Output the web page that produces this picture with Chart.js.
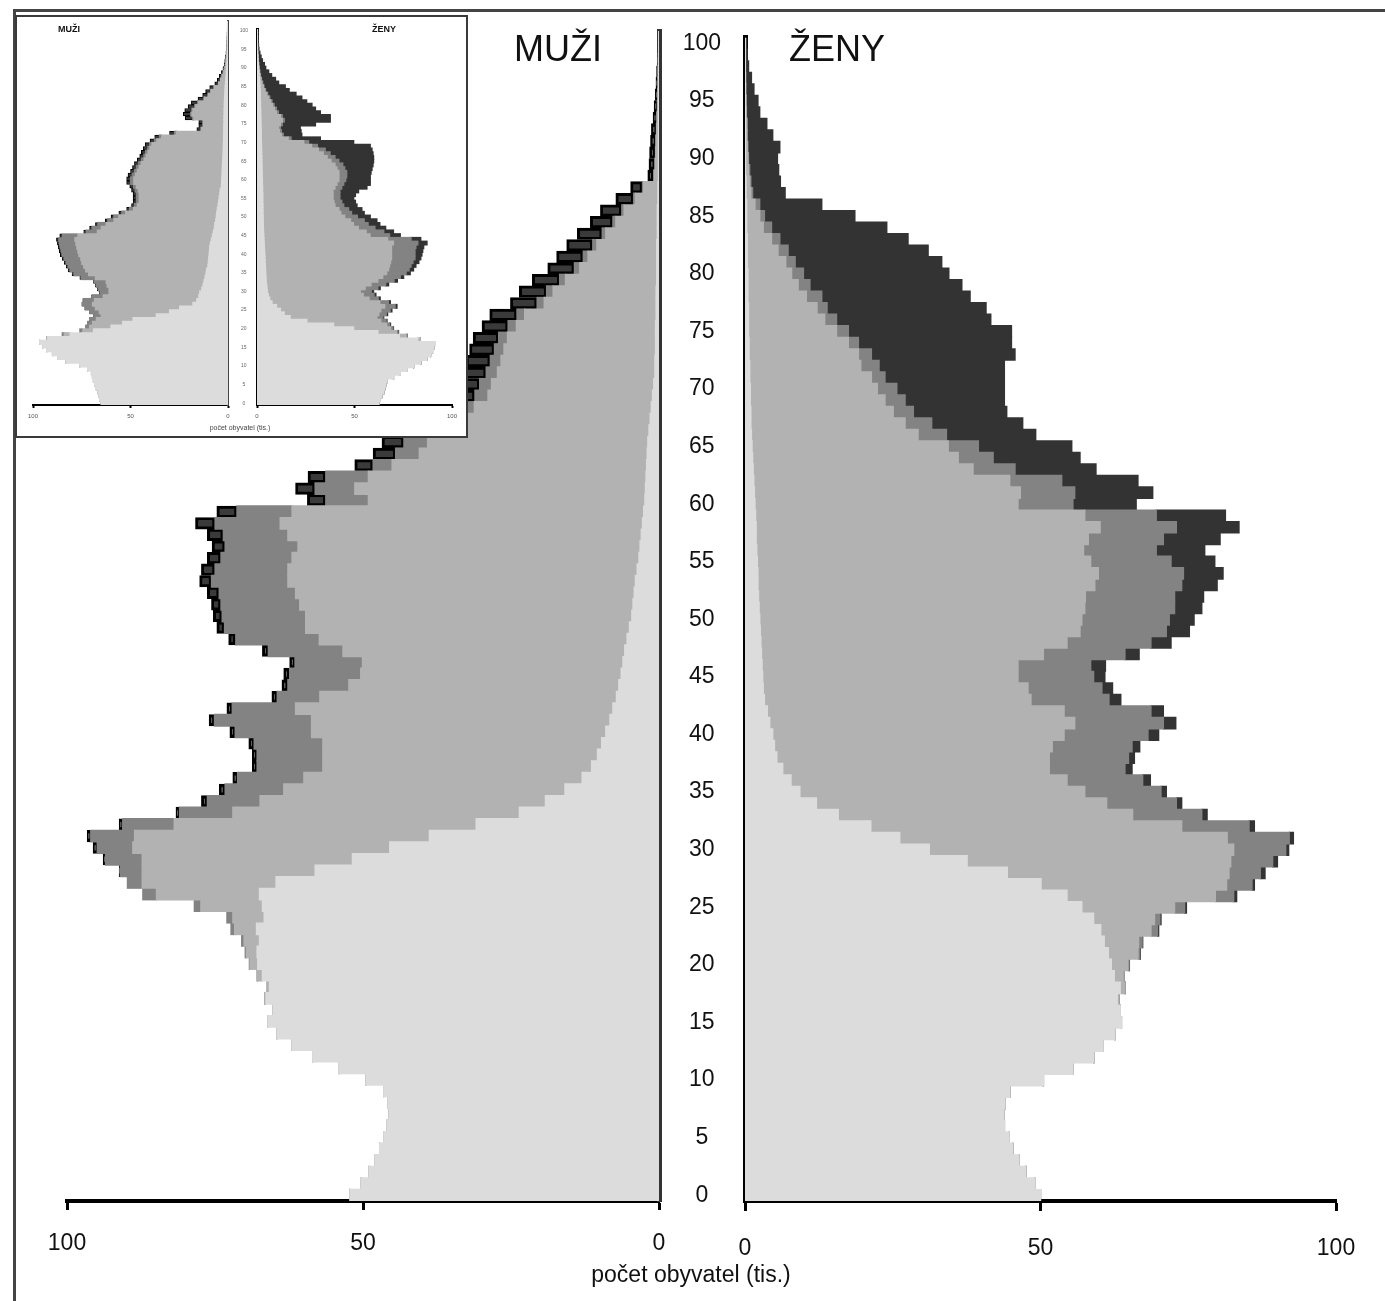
<!DOCTYPE html>
<html>
<head>
<meta charset="utf-8">
<script src="https://cdn.jsdelivr.net/npm/chart.js@4.4.1/dist/chart.umd.min.js"></script>
<style>
  html, body { margin: 0; padding: 0; background: #fff; }
  #wrap { position: relative; width: 1385px; height: 1301px; overflow: hidden; background: #fff;
          font-family: "Liberation Sans", Arial, Helvetica, sans-serif; color: #111; }
  canvas { position: absolute; }
  .line { position: absolute; background: #444; }
  #inset { position: absolute; left: 15px; top: 15px; width: 449px; height: 419px;
           border: 2px solid #3a3a3a; background: #fff; z-index: 5; }
  .txt { position: absolute; white-space: nowrap; line-height: 1; }
</style>
</head>
<body>
<div id="wrap">
  <div class="line" style="left:13px;top:9px;width:1372px;height:3px;"></div>
  <div class="line" style="left:13px;top:9px;width:3px;height:1292px;"></div>

  <canvas id="men" width="680" height="1301" style="left:0;top:0;"></canvas>
  <canvas id="women" width="705" height="1301" style="left:680px;top:0;"></canvas>

  <div class="txt" style="left:514px;top:31px;font-size:36px;">MUŽI</div>
  <div class="txt" style="left:789px;top:31px;font-size:36px;">ŽENY</div>
  <div class="txt" style="left:541px;top:1263px;width:300px;text-align:center;font-size:23px;">počet obyvatel (tis.)</div>

  <div id="inset">
    <canvas id="insetMen" width="220" height="419" style="left:0;top:0;"></canvas>
    <canvas id="insetWomen" width="229" height="419" style="left:220px;top:0;"></canvas>
    <div class="txt" style="left:41px;top:8px;font-size:9px;font-weight:bold;">MUŽI</div>
    <div class="txt" style="left:355px;top:8px;font-size:9px;font-weight:bold;">ŽENY</div>
    <div class="txt" style="left:173px;top:407px;width:100px;text-align:center;font-size:7px;color:#444;">počet obyvatel (tis.)</div>
  </div>
</div>

<script>
// ---------- categories and tick labels ----------
const ages = [0,1,2,3,4,5,6,7,8,9,10,11,12,13,14,15,16,17,18,19,20,21,22,23,24,25,26,27,28,29,
  30,31,32,33,34,35,36,37,38,39,40,41,42,43,44,45,46,47,48,49,50,51,52,53,54,55,56,57,58,59,
  60,61,62,63,64,65,66,67,68,69,70,71,72,73,74,75,76,77,78,79,80,81,82,83,84,85,86,87,88,89,
  90,91,92,93,94,95,96,97,98,99,100];
const ageTickLabels = [0,5,10,15,20,25,30,35,40,45,50,55,60,65,70,75,80,85,90,95,100];
const xTickValues = [0, 50, 100];

// ---------- main pyramid: men (thousands) ----------
const menSingle = [52.2,50.3,49.0,48.0,47.2,46.4,45.9,45.6,45.8,46.5,
  49.5,54.0,58.5,62.0,64.5,66.0,65.2,66.4,65.8,67.0,
  67.8,67.9,67.5,68.0,66.7,67.0,67.5,64.7,58.1,51.8,
  45.5,38.8,30.9,23.6,19.2,15.9,13.0,11.4,10.4,9.7,
  9.0,8.3,7.8,7.2,6.8,6.4,6.1,5.8,5.4,5.0,
  4.6,4.4,4.2,4.0,3.7,3.4,3.2,3.0,2.8,2.6,
  2.4,2.3,2.2,2.1,2.0,1.9,1.7,1.5,1.3,1.1,
  0.9,0.7,0.7,0.6,0.6,0.6,0.5,0.5,0.5,0.4,
  0.4,0.4,0.4,0.3,0.3,0.3,0.2,0.2,0.1,0.1,
  0.1,0.1,0.05,0.05,0.05,0.05,0.03,0.03,0.02,0.02,
  0.01];
const menMarried = [0,0,0,0,0,0,0,0,0,0,
  0,0,0,0,0,0,0,0.2,0.4,0.8,
  1.3,1.8,2.6,3.7,5.3,10.4,17.4,22.6,29.2,35.5,
  43.4,49.8,51.0,48.4,48.2,47.5,47.0,45.4,46.4,47.1,
  49.7,50.4,53.6,50.1,45.6,44.0,44.0,47.6,52.0,54.7,
  55.1,56.3,57.2,58.7,59.0,58.6,57.8,59.7,61.2,59.4,
  46.7,49.1,46.9,43.0,38.5,37.2,34.7,32.3,29.9,27.8,
  27.4,26.6,26.0,25.6,25.0,23.5,22.2,18.9,17.4,15.4,
  13.0,11.6,10.1,8.7,7.0,5.6,3.8,2.4,0.7,0.55,
  0.45,0.4,0.35,0.28,0.2,0.15,0.12,0.1,0.08,0.05,
  0.04];
const menDivorced = [0,0,0,0,0,0,0,0,0,0,
  0,0,0,0,0,0,0,0,0,0.1,
  0.1,0.2,0.4,0.6,1.0,1.1,2.3,2.5,3.7,6.2,
  6.0,7.4,8.7,9.0,8.9,9.9,11.2,11.1,11.1,11.6,
  12.9,16.4,10.7,7.2,10.3,12.0,11.4,12.6,14.1,13.7,
  14.1,13.3,12.9,12.9,12.3,12.0,12.3,10.9,11.0,9.3,
  7.2,6.7,7.2,3.2,4.0,4.0,3.4,2.9,2.5,2.2,
  2.0,1.9,1.8,1.6,1.5,1.4,1.3,1.2,1.1,1.0,
  0.9,0.8,0.7,0.6,0.5,0.4,0.3,0.2,0.1,0.05,
  0.05,0.04,0.04,0.03,0.03,0.02,0.02,0.01,0.01,0.01,
  0.01];
const menWidowed = [0,0,0,0,0,0,0,0,0,0,
  0,0,0,0,0,0,0,0,0,0,
  0,0,0,0,0,0,0,0,0.2,0.4,
  0.7,0.6,0.6,0.6,1.0,1.0,0.8,0.8,0.8,0.9,
  0.9,0.9,0.9,0.9,1.0,1.0,0.9,1.0,1.2,1.3,
  1.5,1.6,2.0,2.0,2.3,2.3,2.2,2.7,3.3,3.4,
  3.1,3.3,3.0,3.1,3.8,3.7,3.7,3.8,3.8,3.9,
  4.0,4.0,4.1,4.2,4.3,4.4,4.6,4.5,4.6,4.6,
  4.5,4.5,4.4,4.2,3.8,3.6,3.0,2.0,1.0,1.0,
  1.0,0.9,0.85,0.65,0.55,0.4,0.35,0.28,0.2,0.15,
  0.15];

// ---------- main pyramid: women (thousands) ----------
const womenSingle = [50.0,49.0,47.5,46.3,45.3,44.7,43.9,43.8,44.0,44.8,
  50.5,55.5,59.0,60.5,62.6,63.7,63.5,63.0,63.5,62.5,
  62.0,61.5,60.8,60.2,59.0,57.0,54.5,50.1,44.4,37.6,
  31.2,26.2,21.3,15.8,12.1,9.3,7.8,6.4,5.4,5.0,
  4.7,4.2,3.8,3.3,3.1,3.0,2.9,2.8,2.7,2.6,
  2.5,2.4,2.3,2.2,2.2,2.1,2.0,1.9,1.9,1.8,
  1.7,1.6,1.5,1.4,1.3,1.2,1.1,1.0,1.0,0.9,
  0.9,0.8,0.8,0.7,0.7,0.6,0.6,0.6,0.5,0.5,
  0.5,0.4,0.4,0.4,0.3,0.3,0.3,0.2,0.2,0.1,
  0.1,0.1,0.1,0.1,0.05,0.05,0.05,0.03,0.02,0.01,
  0.01];
const womenMarried = [0,0,0,0,0,0,0,0,0,0,
  0,0,0,0,0,0,0,0.3,0.8,1.5,
  2.8,5.0,5.8,8.5,10.3,15.7,25.1,31.4,37.5,44.6,
  51.5,55.4,52.6,49.8,49.1,48.2,46.7,45.1,46.1,47.0,
  49.3,51.6,50.2,45.1,44.8,43.2,43.3,47.7,51.8,54.1,
  54.5,55.1,55.3,57.0,57.6,56.4,55.3,56.2,58.2,55.7,
  44.5,45.0,43.3,37.2,34.8,33.2,28.2,26.1,24.1,22.8,
  21.5,20.6,18.8,18.5,16.8,14.9,12.9,11.6,9.9,8.5,
  7.4,6.5,5.2,4.1,2.8,2.2,1.4,0.8,0.6,0.5,
  0.4,0.3,0.2,0.2,0.15,0.1,0.05,0.05,0.03,0.02,
  0.01];
const womenDivorced = [0,0,0,0,0,0,0,0,0,0,
  0,0,0,0,0,0,0,0,0,0.1,
  0.2,0.3,0.6,1.1,0.9,1.7,3.1,4.3,5.3,7.1,
  8.8,10.5,11.4,11.7,11.8,12.9,12.8,12.8,13.4,13.5,
  14.2,15.0,14.7,13.2,12.5,12.8,12.3,13.8,14.2,14.6,
  14.8,15.2,15.1,14.7,14.4,13.6,12.3,12.7,12.9,12.1,
  9.3,9.2,8.8,7.1,5.9,5.1,4.8,4.5,3.4,3.4,
  3.3,2.3,3.1,2.2,1.7,2.0,2.0,1.7,2.6,2.0,
  2.0,1.6,1.7,1.4,1.4,0.8,0.8,0.3,0.2,0.2,
  0.1,0.1,0.1,0.05,0.05,0.05,0.02,0.02,0.01,0.01,
  0.01];
const womenWidowed = [0,0,0,0,0,0,0,0,0,0,
  0,0,0,0,0,0,0,0,0,0,
  0.05,0.1,0.1,0.2,0.2,0.3,0.5,0.4,0.8,0.8,
  0.5,0.7,0.9,0.9,0.9,0.9,1.3,1.2,1.0,1.3,
  1.8,2.1,2.1,2.0,1.8,1.9,2.5,2.4,3.4,3.9,
  4.2,4.6,4.9,6.0,6.7,7.4,8.2,9.6,10.6,11.7,
  10.7,13.2,12.9,13.7,14.7,15.8,15.1,15.4,15.8,16.8,
  18.2,20.2,21.2,24.3,25.9,27.6,26.1,26.9,25.1,25.7,
  24.6,24.8,23.7,21.7,19.5,15.3,10.5,5.5,5.0,4.9,
  4.9,5.4,4.3,3.35,2.25,2.0,1.4,1.0,0.55,0.35,
  0.25];

// ---------- inset pyramid: men ----------
const insetMenSingle = [65,65.8,66.2,66.7,67.5,68.4,69,69.5,70,72,
  76,83,87,90,93,95,96.6,92.5,81,69,
  60,54,48.7,36.8,30,24.8,18,16,15,14.5,
  13.5,12.8,12.3,11.8,11.3,11,10.3,10.1,9.9,9.7,
  9.5,9.4,9.0,8.5,8,7.5,7,6.8,6.3,6,
  5.8,5.5,5.1,4.8,4.5,4.2,4,3.4,3.3,3.2,
  3.1,3.0,2.9,2.8,2.7,2.6,2.5,2.4,2.4,2.3,
  2.3,2.2,2.2,2.2,2.1,2.1,2.0,2.0,1.9,1.9,
  1.8,1.7,1.6,1.5,1.3,1.2,1.0,0.9,0.7,0.6,
  0.5,0.4,0.3,0.25,0.2,0.2,0.15,0.1,0.1,0.1,
  0.1];
const insetMenMarried = [0,0,0,0,0,0,0,0,0,0,
  0,0,0,0,0,0,0,0.5,3,5.5,
  11,15.5,18.8,28.2,36,43.2,51.5,52.5,49,46.5,
  47.5,49.2,50.2,56.2,60.2,62,63.7,64.9,65.6,66.8,
  67.5,68.1,69,70,69,59.5,58,55.7,52.2,50,
  46.7,43,41.4,40.7,41,41.3,42,43.6,45,45.1,
  44.4,43.5,42.6,41.7,40.3,39.4,38.5,37.6,36.6,34.2,
  31.7,24.3,11.3,10.3,10.4,15.4,16.5,16,14.6,13.1,
  10.2,8.3,7.1,5.5,3.5,2.6,2.0,1.3,0.9,0.6,
  0.5,0.4,0.3,0.25,0.2,0.15,0.15,0.15,0.1,0.05,
  0.05];
const insetMenDivorced = [0,0,0,0,0,0,0,0,0,0,
  0,0,0,0,0,0,0,0,1,1.5,
  2,2.3,3.3,3.7,4.7,5.2,5.1,5.5,5.5,4.5,
  5.4,5.4,5.9,7.2,7.5,8,8,8,8.5,8.5,
  8.5,8.5,8.4,8.3,8,5.8,4.8,4.3,3.2,2.6,
  2,2,1.5,1.5,1.5,1.5,1.7,1.5,1.7,1.7,
  1.7,1.5,1.5,1.5,1.5,1.2,1.3,1.2,1.2,1.2,
  1.2,1,0.5,0.5,0.5,0.7,0.7,0.6,0.6,0.6,
  0.5,0.4,0.3,0.3,0.2,0.2,0.2,0.2,0.2,0.1,
  0.1,0.1,0.1,0.05,0.05,0.05,0.05,0.05,0.05,0.05,
  0.05];
const insetMenWidowed = [0,0,0,0,0,0,0,0,0,0,
  0,0,0,0,0,0,0,0,0,0,
  0,0.2,0.2,0.3,0.3,0.3,0.4,0.5,0.5,0.5,
  0.6,0.6,0.6,0.8,1.0,1.0,1.0,1.0,1.0,1.0,
  1.0,1.0,1.1,1.2,1.3,1.2,1.2,1.2,1.3,1.4,
  1.5,1.5,1.5,1.7,1.7,1.7,1.8,1.9,2,2,
  2.1,2,2,2,2,2.1,2.2,2.3,2.3,2.3,
  2.4,2.5,2,2,2,3.8,3.8,3.6,3.4,3.2,
  2.9,2.6,2.5,2.1,1.8,1.5,1.3,1.0,0.8,0.7,
  0.6,0.5,0.4,0.35,0.35,0.3,0.25,0.2,0.15,0.1,
  0.1];

// ---------- inset pyramid: women ----------
const insetWomenSingle = [62.5,63.2,64,65,65.5,66,66.7,70,73.5,77,
  80.3,84,87,89,90,90.6,91.5,82.5,73,62,
  49.6,39.3,25.6,17,14,12,10,7.7,6.5,5.8,
  5.3,5.1,4.9,4.7,4.6,4.5,4.4,4.3,4.2,4.1,
  4.0,3.9,3.8,3.7,3.6,3.5,3.4,3.3,3.3,3.2,
  3.2,3.1,3.1,3.1,3.0,3.0,3.0,2.9,2.9,2.8,
  2.8,2.7,2.7,2.6,2.6,2.5,2.5,2.4,2.4,2.3,
  2.3,2.2,2.2,2.2,2.1,2.1,2.0,2.0,1.9,1.9,
  1.8,1.8,1.7,1.7,1.6,1.5,1.4,1.3,1.1,1.0,
  0.8,0.7,0.5,0.4,0.3,0.2,0.15,0.1,0.1,0.1,
  0.1];
const insetWomenMarried = [0,0,0,0,0,0,0,0,0,0,
  0,0,0,0,0,0,0,1.3,3.5,9.5,
  18.9,27.2,37.9,44.5,48.5,51.5,55.5,55.3,51,48.7,
  47.7,50.4,53.6,57.3,59.9,62,63.1,63.7,64.3,64.9,
  65,65.1,65.2,66.3,63.4,54.5,52.6,48.7,46.2,44.8,
  41.8,39.9,38.9,36.9,36.5,36,36,36.1,37.1,38.2,
  39.2,39.3,39.3,38.4,37.4,35.5,33.5,31.6,29.1,25.7,
  21.7,13.8,10.3,9.3,8.9,9.9,11,10,8.1,7.1,
  6.2,5.2,4.3,3.3,2.4,1.8,1.2,0.8,0.5,0.3,
  0.2,0.1,0.1,0.1,0.05,0.05,0.05,0.05,0.05,0.03,
  0.03];
const insetWomenDivorced = [0,0,0,0,0,0,0,0,0,0,
  0,0,0,0,0,0,0,0,0.5,0.8,
  1.2,1.5,2.7,3,3.8,4.8,5.3,4.4,4.7,5.5,
  5.6,6.5,7.5,8.3,9,10,10.5,11,11.5,12,
  12,12,12.5,12.5,12,10,9,8.5,7.5,7,
  6.5,5.5,5,4.5,4,3.5,3.5,3.5,3.5,3.5,
  3.5,4,4,4,4,4,4,3.5,3.5,3,
  2.5,1.5,1,1,1,1,1,1,1,1,
  0.8,0.7,0.6,0.5,0.4,0.3,0.3,0.2,0.2,0.1,
  0.1,0.1,0.1,0.05,0.05,0.05,0.05,0.05,0.02,0.02,
  0.02];
const insetWomenWidowed = [0,0,0,0,0,0,0,0,0,0,
  0,0,0,0,0,0,0,0,0,0.3,
  0.3,0.5,0.5,0.5,0.7,0.9,1.0,1.0,1.0,1.0,
  1.2,1.2,1.5,1.7,1.7,2.1,2.3,2.5,3,3,
  3.6,4,4,4.7,5,5.5,5,5.5,6,6.5,
  6.6,6.5,6.8,6.8,7,7.1,8,9.6,12.9,13.6,
  12.6,12.1,12.5,14,15.5,17.8,19.8,22,24,27.1,
  23.1,15,9.5,10.1,10.2,17,23.6,24.6,21.5,20,
  19.4,17.8,16.4,14.5,12.1,10.9,8.2,7.2,5.7,4.6,
  3.4,2.9,2.1,1.55,1.1,0.7,0.55,0.3,0.23,0.15,
  0.15];

// ---------- styling ----------
const FONT = "'Liberation Sans', Arial, Helvetica, sans-serif";
const C_SINGLE = '#dcdcdc', C_MARRIED = '#b2b2b2', C_DIVORCED = '#838383', C_WIDOWED = '#333333';

function datasets(s, m, d, w, menStyle, wBorder) {
  const base = { barPercentage: 1, categoryPercentage: 1, borderWidth: 0, inflateAmount: 0.6 };
  const wid = menStyle
    ? { label: 'ovdovělí', data: w, backgroundColor: '#3a3a3a', borderColor: '#000',
        borderWidth: wBorder, borderSkipped: false, inflateAmount: 0.3,
        barPercentage: 1, categoryPercentage: 1 }
    : Object.assign({ label: 'ovdovělé', data: w, backgroundColor: C_WIDOWED }, base);
  return [
    Object.assign({ label: 'svobodní', data: s, backgroundColor: C_SINGLE }, base),
    Object.assign({ label: 'ženatí/vdané', data: m, backgroundColor: C_MARRIED }, base),
    Object.assign({ label: 'rozvedení', data: d, backgroundColor: C_DIVORCED }, base),
    wid
  ];
}

function pyramid(id, o) {
  const yScale = o.side === 'men'
    ? { type: 'category', stacked: true, reverse: true, position: 'right', offset: true,
        afterFit: s => { s.width = 0; },
        ticks: { display: false }, grid: { display: false, drawTicks: false },
        border: { display: true, color: o.axisColor, width: o.vbw } }
    : { type: 'category', stacked: true, reverse: true, position: 'left', offset: true,
        afterFit: s => { s.width = o.yw; },
        ticks: { display: true, autoSkip: false, crossAlign: 'center', padding: o.ypad,
                 color: o.ageColor, font: { family: FONT, size: o.afs },
                 callback: (v, i) => ageTickLabels.includes(ages[i]) ? String(ages[i]) : '' },
        grid: { display: false, drawTicks: false },
        border: { display: true, color: o.axisColor, width: o.vbw } };
  return new Chart(document.getElementById(id), {
    type: 'bar',
    data: { labels: ages, datasets: datasets(o.s, o.m, o.d, o.w, o.side === 'men', o.wBorder) },
    options: {
      indexAxis: 'y', responsive: false, animation: false, events: [],
      layout: { padding: o.pad },
      plugins: { legend: { display: false }, tooltip: { enabled: false } },
      scales: {
        x: { type: 'linear', stacked: true, reverse: o.side === 'men', min: 0, max: 100,
             position: 'bottom',
             afterFit: s => { s.height = o.xh; },
             afterBuildTicks: s => { s.ticks = xTickValues.map(v => ({ value: v })); },
             ticks: { autoSkip: false, maxRotation: 0, padding: o.xpad, color: o.tickColor,
                      font: { family: FONT, size: o.xfs } },
             grid: { display: true, drawOnChartArea: false, drawTicks: true,
                     tickLength: o.tl, tickWidth: o.tw, color: '#000', tickColor: '#000' },
             border: { display: true, color: '#000', width: o.hbw } },
        y: yScale
      }
    }
  });
}

// main men: plot x 67..659, y 31..1201
pyramid('men', { side: 'men', s: menSingle, m: menMarried, d: menDivorced, w: menWidowed,
  wBorder: 3, pad: { left: 67, right: 21, top: 31, bottom: 0 }, xh: 100, xpad: 20,
  xfs: 23, tl: 9, tw: 3, hbw: 4, vbw: 5, axisColor: '#333', tickColor: '#111' });
// main women: plot x 745..1336 (canvas 65..656)
pyramid('women', { side: 'women', s: womenSingle, m: womenMarried, d: womenDivorced, w: womenWidowed,
  pad: { left: 0, right: 49, top: 31, bottom: 0 }, xh: 100, xpad: 24, yw: 65, ypad: 24,
  afs: 23, ageColor: '#111', xfs: 23, tl: 10, tw: 3, hbw: 4, vbw: 5, axisColor: '#000', tickColor: '#111' });

// inset men: plot page x 33..228, y 21..405
pyramid('insetMen', { side: 'men', s: insetMenSingle, m: insetMenMarried, d: insetMenDivorced, w: insetMenWidowed,
  wBorder: 1, pad: { left: 16, right: 9, top: 4, bottom: 0 }, xh: 31, xpad: 5,
  xfs: 6, tl: 3, tw: 2, hbw: 2, vbw: 2, axisColor: '#444', tickColor: '#555' });
// inset women: plot page x 257..452
pyramid('insetWomen', { side: 'women', s: insetWomenSingle, m: insetWomenMarried, d: insetWomenDivorced, w: insetWomenWidowed,
  pad: { left: 0, right: 14, top: 4, bottom: 0 }, xh: 31, xpad: 5, yw: 20, ypad: 9,
  afs: 5, ageColor: '#666', xfs: 6, tl: 3, tw: 2, hbw: 2, vbw: 3, axisColor: '#000', tickColor: '#555' });
</script>
</body>
</html>
